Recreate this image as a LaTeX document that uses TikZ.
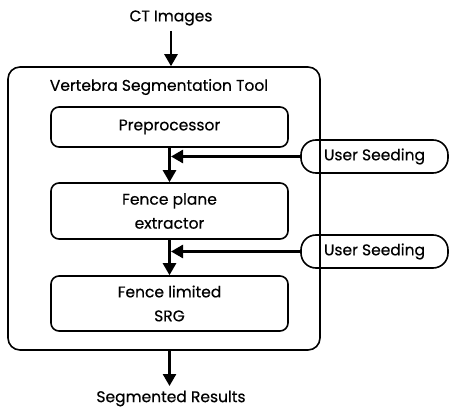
\documentclass[tikz,border=0pt]{standalone}
\usepackage{fontspec}
\setmainfont{Poppins}[FakeBold=0.5]
\usetikzlibrary{arrows.meta}
\begin{document}
\begin{tikzpicture}[x=1pt,y=-1pt,
  lbl/.style={font=\fontsize{15.5}{18}\selectfont, inner sep=0pt},
  blk/.style={draw, line width=1.6pt, rounded corners=8pt, minimum width=237pt, inner sep=0pt, align=center, font=\fontsize{15.5}{24}\selectfont},
  seed/.style={draw, line width=1.6pt, rounded corners=15pt, minimum width=147pt, minimum height=33pt, inner sep=0pt, font=\fontsize{15.5}{18}\selectfont},
  arr/.style={line width=2.6pt, -{Triangle[length=12pt,width=13pt]}}]
\useasboundingbox (0,0) rectangle (450,409);
\node[lbl] (ct) at (171,18) {CT Images};
\node[draw, line width=1.6pt, rounded corners=12pt, minimum width=312pt, minimum height=283pt] (outer) at (164,208.5) {};
\node[lbl] (title) at (159,87) {Vertebra Segmentation Tool};
\node[blk, minimum height=40pt] (pre) at (169.5,127) {Preprocessor};
\node[blk, minimum height=56pt] (fence) at (169.5,211) {Fence plane\\extractor};
\node[blk, minimum height=55pt] (srg) at (169.5,303.5) {Fence limited\\SRG};
\node[seed] (us1) at (374.5,156.5) {User Seeding};
\node[seed] (us2) at (374.5,251.5) {User Seeding};
\node[lbl] (seg) at (171,398.5) {Segmented Results};
\draw[arr] (ct.south |- 0,31) -- (ct.south |- outer.north);
\draw[arr] (pre.south) -- (fence.north);
\draw[arr] (fence.south) -- (srg.north);
\draw[arr] (srg.south |- outer.south) -- (srg.south |- 0,386);
\draw[arr] (us1.west) -- ([xshift=1.5pt]us1.west -| pre.south);
\draw[arr] (us2.west) -- ([xshift=1.5pt]us2.west -| fence.south);
\end{tikzpicture}
\end{document}
